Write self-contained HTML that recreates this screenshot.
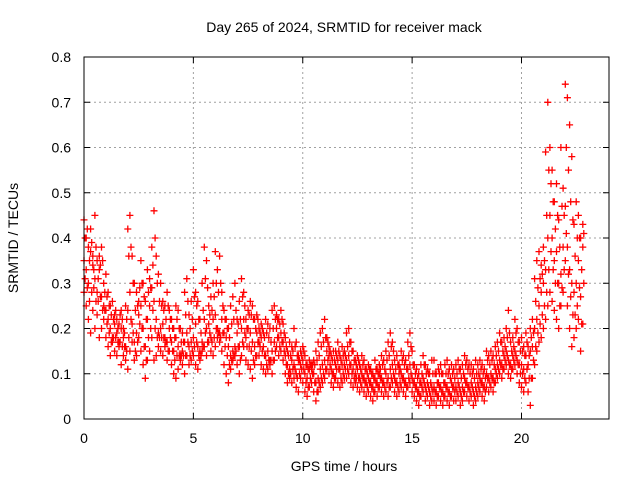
<!DOCTYPE html>
<html><head><meta charset="utf-8"><style>
html,body{margin:0;padding:0;background:#fff;}
svg{display:block;font-family:"Liberation Sans",sans-serif;}
</style></head><body>
<svg id="chart" width="640" height="480">
<rect x="0" y="0" width="640" height="480" fill="#fff"/>
<text x="344" y="32" font-size="14" text-anchor="middle">Day 265 of 2024, SRMTID for receiver mack</text>
<text x="344" y="471" font-size="14" text-anchor="middle">GPS time / hours</text>
<text transform="translate(18,238) rotate(-90)" font-size="14" text-anchor="middle">SRMTID / TECUs</text>
<g id="grid"></g><g id="ticks"></g><g id="marks"></g>
<rect x="84" y="57" width="525" height="362" fill="none" stroke="#000" stroke-width="1"/>
</svg>
<script>
const xTicks=[0,5,10,15,20];
const yTicks=[0,0.1,0.2,0.3,0.4,0.5,0.6,0.7,0.8];
const yTickLabels=["0","0.1","0.2","0.3","0.4","0.5","0.6","0.7","0.8"];
const sampleStepHours=0.1;
const seriesA=[44,40,38,42,36,45,35,33,38,30,32,28,25,26,23,22,21,24,20,25,42,45,36,30,28,26,35,30,26,33,31,38,46,36,32,30,26,25,28,24,22,20,25,24,20,19,28,31,23,26,33,28,26,22,30,38,35,25,27,30,37,33,36,28,24,22,20,25,27,30,22,26,31,28,22,24,26,25,22,23,20,21,19,22,21,20,24,25,23,22,24,21,18,15,17,16,20,17,13,15,16,14,12,13,11,13,15,17,19,20,22,18,16,14,15,15,17,14,16,15,19,20,17,15,13,14,12,14,13,11,12,11,10,13,11,12,14,13,15,17,19,17,13,14,12,15,14,13,17,19,15,12,11,10,12,14,12,11,10,13,13,10,11,12,10,12,13,11,12,11,12,13,11,12,14,13,12,12,11,13,12,13,12,11,15,14,15,14,16,17,19,17,18,20,24,17,18,22,20,17,18,16,19,16,20,22,31,35,37,34,38,59,70,60,55,48,52,44,60,51,74,71,65,58,43,48,45,40,43];
const seriesB=[35,33,30,37,34,31,28,36,27,25,24,22,20,18,21,19,17,20,18,16,24,28,21,17,19,23,25,20,16,22,25,29,26,22,19,20,21,18,17,20,17,15,18,16,14,15,17,19,16,17,18,21,16,15,17,22,20,21,18,22,23,20,19,22,19,18,16,14,15,16,19,16,20,22,18,20,19,17,16,19,17,18,16,14,15,13,15,17,20,18,19,17,14,12,11,13,12,10,14,12,13,10,9,11,12,10,8,9,11,12,13,15,14,11,10,12,13,11,12,12,13,14,12,11,10,11,9,10,9,8,9,8,7,9,8,10,9,8,10,9,11,12,9,8,10,10,9,8,11,12,9,8,7,6,8,9,7,8,6,7,7,6,8,7,6,8,7,6,8,7,7,8,6,7,9,8,7,8,6,7,8,9,8,7,10,9,10,9,11,12,13,12,14,15,13,12,14,15,13,12,12,11,14,12,15,16,20,22,25,28,30,33,40,45,40,35,37,30,32,38,47,38,33,30,28,30,35,27,38];
const seriesC=[28,25,22,19,24,20,23,18,20,22,18,16,14,17,15,14,16,12,14,13,11,15,17,13,14,18,15,12,9,13,15,18,13,14,16,15,14,16,13,15,12,10,9,11,13,12,10,14,12,13,14,12,11,13,15,16,14,17,15,14,16,18,17,15,12,10,8,11,13,14,12,10,14,16,13,12,11,9,12,14,14,12,11,10,11,12,10,13,16,14,15,13,10,8,9,8,9,7,6,9,8,6,5,7,8,6,4,6,7,8,9,11,10,8,7,9,8,7,8,9,9,10,8,7,8,7,6,7,6,5,6,5,4,6,5,7,6,5,6,5,7,8,6,5,6,7,6,5,7,8,6,5,4,3,5,6,4,5,3,4,4,3,5,4,3,5,4,3,5,4,4,5,3,4,6,5,4,5,3,4,5,6,5,4,7,6,7,6,8,9,10,9,11,12,10,9,11,12,10,8,7,6,8,6,3,9,12,15,17,18,20,22,25,28,26,24,22,20,25,28,35,25,20,16,18,20,22,15,21];
const seriesD=[40,42,35,39,33,38,31,34,35,28,27,25,23,22,24,20,23,22,19,22,36,38,30,24,25,29,30,27,22,28,29,34,40,30,26,25,24,22,25,22,20,18,22,20,17,17,23,26,20,22,27,25,22,19,24,31,29,23,24,27,30,28,30,25,22,20,18,21,22,24,21,22,27,25,20,23,23,22,20,22,19,20,18,19,18,17,20,22,22,21,22,19,16,14,14,15,16,14,13,14,15,12,11,12,12,12,13,14,16,17,18,17,15,13,13,14,15,13,14,14,16,17,15,13,12,13,11,12,11,10,11,10,9,11,10,11,12,11,13,14,16,15,11,12,11,13,12,11,14,16,12,10,9,8,10,12,10,10,8,10,10,8,10,10,8,10,10,9,10,9,10,11,9,10,12,11,10,10,9,10,10,11,10,9,13,12,13,12,14,15,17,15,16,18,19,15,16,19,17,15,15,14,17,14,18,19,26,29,31,32,35,45,55,52,48,42,45,38,47,45,60,55,48,44,36,40,40,33,41];
const seriesE=[31,29,26,28,29,26,26,27,24,24,21,19,17,18,18,17,17,16,16,15,18,22,19,15,17,21,20,16,13,18,20,24,20,18,18,18,18,17,15,18,15,13,14,14,14,14,14,17,14,15,16,17,14,14,16,19,17,19,17,18,20,19,18,19,16,14,12,13,14,15,16,13,17,19,16,16,15,13,14,17,16,15,14,12,13,13,13,15,18,16,17,15,12,10,10,11,11,9,10,11,11,8,7,9,10,8,6,8,9,10,11,13,12,10,9,11,11,9,10,11,11,12,10,9,9,9,8,9,8,7,8,7,6,8,7,9,8,7,8,7,9,10,8,7,8,9,8,7,9,10,8,7,6,5,7,8,6,7,5,6,6,5,7,6,5,7,6,5,7,6,6,7,5,6,8,7,6,7,5,6,7,8,7,6,9,8,9,8,10,11,12,11,13,14,12,11,13,14,12,10,10,9,11,9,9,13,16,19,21,23,25,28,33,37,33,30,30,25,29,33,41,32,27,23,23,25,29,21,30];
const NS="http://www.w3.org/2000/svg";
const X0=84,X1=609,Y0=419,Y1=57,XMAX=24,YMAX=0.8;
function xs(t){return X0+(X1-X0)*t/XMAX;}
function ys(v){return Y0-(Y0-Y1)*v/YMAX;}
const grid=document.getElementById('grid'),ticks=document.getElementById('ticks'),marks=document.getElementById('marks');
xTicks.forEach(t=>{
 const x=xs(t);
 if(t>0){const l=document.createElementNS(NS,'line');l.setAttribute('x1',x);l.setAttribute('x2',x);l.setAttribute('y1',Y1);l.setAttribute('y2',Y0);l.setAttribute('stroke','#a0a0a0');l.setAttribute('stroke-dasharray','2,3');
 
 grid.appendChild(l);}
 const tk=document.createElementNS(NS,'path');tk.setAttribute('d',`M${x},${Y0}v-6M${x},${Y1}v6`);tk.setAttribute('stroke','#000');
 
 ticks.appendChild(tk);
 const tx=document.createElementNS(NS,'text');tx.setAttribute('x',x);tx.setAttribute('y',443);tx.setAttribute('font-size','14');tx.setAttribute('text-anchor','middle');tx.textContent=String(t);
 
 ticks.appendChild(tx);
});
yTicks.forEach((v,i)=>{
 const y=ys(v);
 if(v>0&&v<YMAX){const l=document.createElementNS(NS,'line');l.setAttribute('x1',X0);l.setAttribute('x2',X1);l.setAttribute('y1',y);l.setAttribute('y2',y);l.setAttribute('stroke','#a0a0a0');l.setAttribute('stroke-dasharray','2,3');
 
 grid.appendChild(l);}
 const tk=document.createElementNS(NS,'path');tk.setAttribute('d',`M${X0},${y}h6M${X1},${y}h-6`);tk.setAttribute('stroke','#000');
 
 ticks.appendChild(tk);
 const tx=document.createElementNS(NS,'text');tx.setAttribute('x',71);tx.setAttribute('y',y+5);tx.setAttribute('font-size','14');tx.setAttribute('text-anchor','end');tx.textContent=yTickLabels[i];
 
 ticks.appendChild(tx);
});
const allSeries=[[seriesA,0],[seriesB,0],[seriesC,0],[seriesD,0.05],[seriesE,0.05]];
allSeries.forEach(([s,off])=>{
 let d='';
 s.forEach((v,i)=>{const x=xs(i*sampleStepHours+off),y=ys(v/100);d+=`M${(x-3.5).toFixed(1)},${y.toFixed(1)}h7M${x.toFixed(1)},${(y-3.5).toFixed(1)}v7`;});
 const p=document.createElementNS(NS,'path');p.setAttribute('d',d);p.setAttribute('stroke','#ff0000');p.setAttribute('stroke-width','1.3');p.setAttribute('fill','none');
 
 marks.appendChild(p);
});
</script>
</body></html>
